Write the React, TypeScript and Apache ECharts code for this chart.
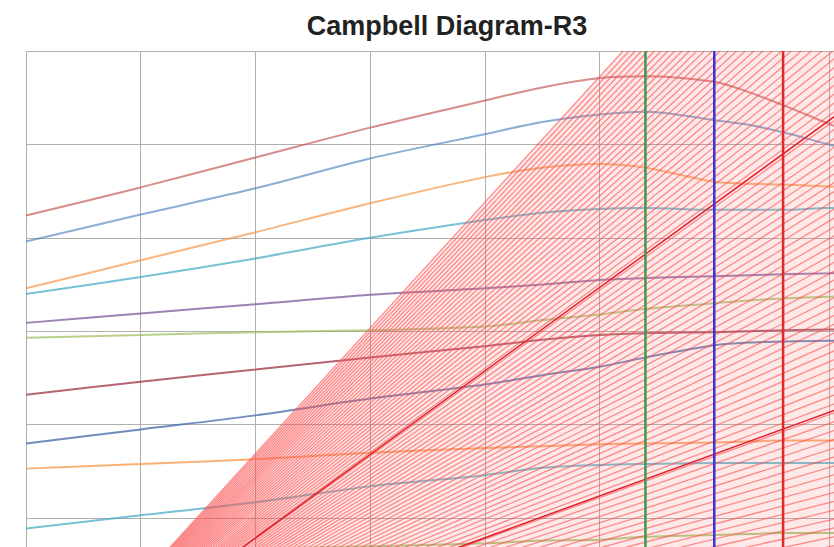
import React, { useEffect, useRef } from 'react';
import * as echarts from 'echarts';

// Rotor speed samples (rpm) shared by every mode curve
const speedRpm = [0, 1000, 2000, 3000, 4000, 4500, 5000, 5400, 6000, 6300, 6600, 7000, 7300];

// Natural frequency of each mode (Hz), read at the speeds above
const mode1 = [524, 554, 586, 618, 647, 661, 671, 673, 667, 656, 642, 622, 607];
const mode2 = [496, 525, 553, 585, 611, 624, 632, 635, 626, 621, 613, 600, 592];
const mode3 = [446, 476, 506, 537, 565, 575, 579, 575, 560, 558, 557, 555, 554];
const mode4 = [440, 458, 478, 500, 519, 527, 531, 532, 530, 530, 530, 532, 532];
const mode5 = [409, 419, 429, 439, 446, 450, 455, 457, 459, 460, 461, 462, 463];
const mode6 = [393, 396, 399, 401, 405, 412, 418, 424, 430, 433, 435, 437, 438];
const mode7 = [332, 346, 359, 372, 384, 391, 396, 398, 399, 400, 401, 402, 402];
const mode8 = [280, 295, 310, 328, 343, 353, 362, 372, 385, 388, 389, 390, 390];
const mode9 = [253, 258, 263, 270, 275, 277, 279, 280, 281, 282, 283, 283, 284];
const mode10 = [189, 203, 217, 234, 246, 254, 257, 258, 259, 259, 259, 259, 260];
const mode11 = [158, 163, 167, 170, 173, 176, 177, 180, 182, 183, 184, 184, 184];

// Excitation (engine-order) lines through the origin: [speed, frequency]
const eoOne = [[0, 0], [8000, 715]];
const eoHalf = [[0, 0], [8000, 358]];

// Excitation band (hatched sector) boundaries
const bandUpper = [[0, 0], [8000, 1076]];
const bandLower = [[0, 0], [8000, 0]];

// Operating speed marks (rpm)
const speedMarks = [5400, 6000, 6600];

// Axis ranges
const speedMax = 8000;
const speedStep = 1000;
const freqMax = 700;
const freqStep = 100;

const modeValues = [mode1, mode2, mode3, mode4, mode5, mode6, mode7, mode8, mode9, mode10, mode11];
const modeColors = ['#C0504D', '#4F81BD', '#F79646', '#4BACC6', '#8064A2', '#9BBB59', '#A0404D', '#4F6FAD', '#F79646', '#4BACC6', '#9BBB59'];
const modeOpacity = [0.65, 0.65, 0.7, 0.75, 0.8, 0.7, 0.8, 0.8, 0.75, 0.75, 0.75];
const markColors = ['#3C9A50', '#3535DC', '#E02A2A'];
const HATCH_LINES = 100;

export default function App() {
  const ref = useRef<HTMLDivElement>(null);
  useEffect(() => {
    document.body.style.overflow = 'hidden';
    const chart = echarts.init(ref.current!, undefined, { renderer: 'svg' });
    const series: any[] = [];
    modeValues.forEach((vals, i) => {
      series.push({
        type: 'line',
        name: 'Mode ' + (i + 1),
        data: vals.map((v, j) => [speedRpm[j], v]),
        smooth: 0.3,
        showSymbol: false,
        lineStyle: { color: modeColors[i], width: 2, opacity: modeOpacity[i] },
        silent: true,
        z: 2,
      });
    });
    series.push({
      type: 'custom',
      name: 'Excitation band',
      data: [[0, 0]],
      silent: true,
      z: 3,
      renderItem: (_params: any, api: any) => {
        const origin = api.coord([bandLower[0][0], bandLower[0][1]]);
        const xEnd = bandUpper[1][0];
        const yU = bandUpper[1][1];
        const yL = bandLower[1][1];
        const children: any[] = [];
        const fillPts = [
          origin,
          api.coord([(xEnd * freqMax) / yU, freqMax]),
          api.coord([xEnd, freqMax]),
          api.coord([xEnd, yL]),
        ];
        children.push({
          type: 'polygon',
          shape: { points: fillPts },
          style: { fill: 'rgba(255,110,110,0.16)' },
        });
        for (let i = 0; i <= HATCH_LINES; i++) {
          const yEnd = yL + ((yU - yL) * i) / HATCH_LINES;
          const end = yEnd > freqMax ? [(xEnd * freqMax) / yEnd, freqMax] : [xEnd, yEnd];
          const p = api.coord(end);
          children.push({
            type: 'line',
            shape: { x1: origin[0], y1: origin[1], x2: p[0], y2: p[1] },
            style: { stroke: 'rgba(250,75,75,0.6)', lineWidth: 1.3 },
          });
        }
        return { type: 'group', children };
      },
    });
    [eoOne, eoHalf].forEach((d, i) => {
      series.push({
        type: 'line',
        name: i === 0 ? '1X' : '0.5X',
        data: d,
        showSymbol: false,
        lineStyle: { color: '#E0202A', width: 1.5 },
        silent: true,
        z: 4,
      });
    });
    speedMarks.forEach((s, i) => {
      series.push({
        type: 'line',
        name: 'Speed ' + s,
        data: [[s, 0], [s, freqMax]],
        showSymbol: false,
        lineStyle: { color: markColors[i], width: 2.5 },
        silent: true,
        z: 5,
      });
    });
    chart.setOption({
      animation: false,
      backgroundColor: '#ffffff',
      grid: { left: 26, top: 51, width: 917.7, height: 654, containLabel: false },
      xAxis: {
        type: 'value',
        min: 0,
        max: speedMax,
        interval: speedStep,
        axisLabel: { show: false },
        axisLine: { show: false },
        axisTick: { show: false },
        splitLine: { show: true, lineStyle: { color: '#b0b0b0', width: 1 } },
      },
      yAxis: {
        type: 'value',
        min: 0,
        max: freqMax,
        interval: freqStep,
        axisLabel: { show: false },
        axisLine: { show: false },
        axisTick: { show: false },
        splitLine: { show: true, lineStyle: { color: '#b0b0b0', width: 1 } },
      },
      graphic: [
        {
          type: 'text',
          x: 447,
          y: 26,
          z: 10,
          style: {
            text: 'Campbell Diagram-R3',
            fontSize: 27,
            fontWeight: 'bold',
            fontFamily: 'Liberation Sans, Arial, sans-serif',
            fill: '#222222',
            textAlign: 'center',
            textVerticalAlign: 'middle',
          },
        },
      ],
      series,
    });
    return () => {
      chart.dispose();
    };
  }, []);
  return (
    <div
      ref={ref}
      style={{ position: 'fixed', left: 0, top: 0, width: 960, height: 720, background: '#fff' }}
    />
  );
}
